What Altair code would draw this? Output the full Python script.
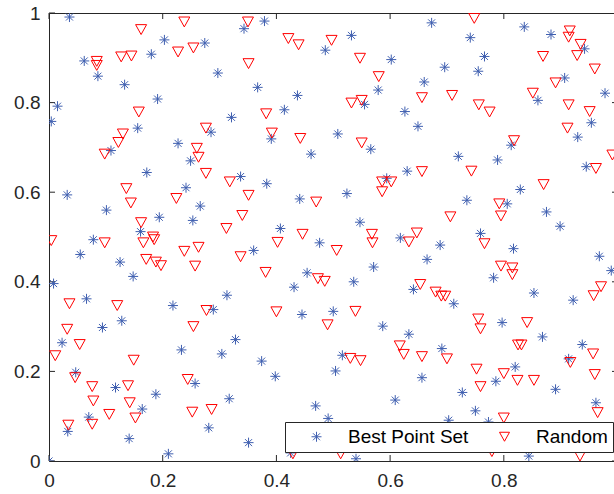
import altair as alt
import pandas as pd

# Best Point Set (blue asterisks)
best_x = [0.000, 0.036, 0.004, 0.015, 0.062, 0.086, 0.203, 0.180, 0.133, 0.191,
          0.156, 0.227, 0.109, 0.249, 0.379, 0.343, 0.274, 0.486, 0.297, 0.367,
          0.437, 0.414, 0.321, 0.285, 0.391, 0.461, 0.673, 0.741, 0.532, 0.602,
          0.696, 0.660, 0.579, 0.555, 0.626, 0.649, 0.508, 0.566, 0.720, 0.836,
          0.883, 0.942, 0.766, 0.755, 0.907, 0.978, 0.860, 0.954, 0.930, 0.813,
          0.789, 0.945, 0.172, 0.241, 0.032, 0.101, 0.194, 0.161, 0.078, 0.055,
          0.125, 0.148, 0.008, 0.066, 0.218, 0.253, 0.128, 0.337, 0.383, 0.441,
          0.266, 0.407, 0.476, 0.360, 0.454, 0.431, 0.313, 0.289, 0.445, 0.630,
          0.594, 0.524, 0.735, 0.547, 0.618, 0.688, 0.665, 0.571, 0.536, 0.641,
          0.712, 0.500, 0.829, 0.806, 0.875, 0.899, 0.759, 0.817, 0.968, 0.989,
          0.782, 0.853, 0.922, 0.094, 0.023, 0.233, 0.047, 0.117, 0.188, 0.164,
          0.070, 0.033, 0.141, 0.210, 0.328, 0.304, 0.374, 0.398, 0.257, 0.317,
          0.469, 0.491, 0.281, 0.351, 0.425, 0.587, 0.633, 0.516, 0.691, 0.504,
          0.656, 0.727, 0.609, 0.703, 0.540, 0.797, 0.868, 0.938, 0.914, 0.820,
          0.786, 0.891, 0.750, 0.962, 0.844, 0.773, 0.989]
best_y = [0.000, 0.991, 0.758, 0.792, 0.893, 0.859, 0.940, 0.908, 0.840, 0.808,
          0.743, 0.709, 0.693, 0.670, 0.982, 0.965, 0.933, 0.917, 0.866, 0.834,
          0.816, 0.784, 0.767, 0.734, 0.719, 0.685, 0.978, 0.945, 0.950, 0.896,
          0.879, 0.846, 0.828, 0.796, 0.780, 0.747, 0.730, 0.696, 0.680, 0.969,
          0.952, 0.920, 0.903, 0.870, 0.855, 0.821, 0.805, 0.755, 0.723, 0.705,
          0.672, 0.657, 0.644, 0.610, 0.594, 0.560, 0.544, 0.512, 0.494, 0.461,
          0.444, 0.412, 0.396, 0.362, 0.347, 0.537, 0.313, 0.635, 0.619, 0.585,
          0.569, 0.519, 0.487, 0.470, 0.420, 0.388, 0.370, 0.338, 0.327, 0.647,
          0.631, 0.597, 0.582, 0.533, 0.498, 0.482, 0.450, 0.433, 0.400, 0.383,
          0.351, 0.334, 0.606, 0.574, 0.556, 0.524, 0.508, 0.474, 0.457, 0.425,
          0.409, 0.375, 0.359, 0.298, 0.264, 0.248, 0.198, 0.164, 0.149, 0.116,
          0.098, 0.066, 0.050, 0.016, 0.271, 0.239, 0.223, 0.189, 0.173, 0.139,
          0.123, 0.095, 0.074, 0.041, 0.018, 0.301, 0.283, 0.236, 0.251, 0.201,
          0.186, 0.153, 0.136, 0.091, 0.005, 0.309, 0.277, 0.260, 0.228, 0.210,
          0.178, 0.160, 0.112, 0.130, 0.011, 0.087, 0.061]

# Random (red triangles)
rand_x = [0.238, 0.162, 0.227, 0.127, 0.145, 0.084, 0.084, 0.158, 0.130, 0.122,
          0.098, 0.350, 0.254, 0.421, 0.439, 0.497, 0.351, 0.382, 0.276, 0.392,
          0.442, 0.260, 0.263, 0.547, 0.580, 0.532, 0.550, 0.656, 0.709, 0.550,
          0.748, 0.916, 0.914, 0.935, 0.929, 0.869, 0.960, 0.891, 0.851, 0.756,
          0.775, 0.914, 0.951, 0.912, 0.818, 0.991, 0.136, 0.144, 0.224, 0.162,
          0.004, 0.098, 0.166, 0.183, 0.185, 0.238, 0.171, 0.188, 0.197, 0.036,
          0.120, 0.276, 0.318, 0.351, 0.340, 0.470, 0.312, 0.446, 0.402, 0.263,
          0.337, 0.257, 0.381, 0.473, 0.485, 0.277, 0.400, 0.656, 0.743, 0.586,
          0.602, 0.586, 0.706, 0.568, 0.569, 0.647, 0.633, 0.506, 0.653, 0.680,
          0.690, 0.697, 0.539, 0.962, 0.870, 0.792, 0.795, 0.766, 0.795, 0.815,
          0.815, 0.971, 0.958, 0.755, 0.032, 0.054, 0.011, 0.149, 0.046, 0.076,
          0.139, 0.078, 0.142, 0.106, 0.152, 0.076, 0.034, 0.244, 0.252, 0.254,
          0.286, 0.490, 0.429, 0.617, 0.624, 0.530, 0.548, 0.656, 0.700, 0.513,
          0.759, 0.841, 0.825, 0.831, 0.957, 0.917, 0.752, 0.800, 0.824, 0.853,
          0.960, 0.759, 0.965, 0.800, 0.934, 0.779]
rand_y = [0.980, 0.963, 0.913, 0.902, 0.904, 0.892, 0.883, 0.779, 0.730, 0.711,
          0.685, 0.980, 0.922, 0.943, 0.929, 0.939, 0.887, 0.775, 0.743, 0.732,
          0.720, 0.698, 0.678, 0.899, 0.858, 0.799, 0.805, 0.811, 0.816, 0.710,
          0.988, 0.960, 0.946, 0.930, 0.905, 0.903, 0.875, 0.844, 0.821, 0.795,
          0.779, 0.795, 0.780, 0.743, 0.715, 0.683, 0.608, 0.576, 0.586, 0.532,
          0.492, 0.487, 0.487, 0.500, 0.494, 0.468, 0.450, 0.444, 0.436, 0.351,
          0.347, 0.642, 0.623, 0.593, 0.548, 0.578, 0.519, 0.506, 0.488, 0.477,
          0.456, 0.435, 0.421, 0.407, 0.401, 0.336, 0.333, 0.646, 0.647, 0.623,
          0.623, 0.601, 0.545, 0.506, 0.487, 0.509, 0.489, 0.470, 0.394, 0.377,
          0.368, 0.368, 0.334, 0.653, 0.617, 0.574, 0.547, 0.485, 0.435, 0.431,
          0.416, 0.389, 0.369, 0.317, 0.294, 0.260, 0.235, 0.225, 0.186, 0.166,
          0.168, 0.134, 0.130, 0.104, 0.096, 0.082, 0.080, 0.182, 0.109, 0.300,
          0.115, 0.304, 0.016, 0.257, 0.238, 0.229, 0.224, 0.233, 0.228, 0.016,
          0.295, 0.309, 0.259, 0.259, 0.239, 0.220, 0.205, 0.195, 0.180, 0.180,
          0.193, 0.166, 0.108, 0.096, 0.011, 0.021]

series_names = ["Best Point Set", "Random"]
series_colors = ["#3F5FB0", "#FF0000"]
x_ticks = [0, 0.2, 0.4, 0.6, 0.8]
y_ticks = [0, 0.2, 0.4, 0.6, 0.8, 1]

ASTERISK = "M-1,0L1,0M0,-1L0,1M-0.7,-0.7L0.7,0.7M-0.7,0.7L0.7,-0.7"
TRIANGLE = "M-1,-0.9L1,-0.9L0,0.9Z"

W, H = 565, 448
XMAX = 0.9938
TICK = 6
RIGHT_EDGE = W + 4  # the right frame line sits just past the visible area
FONT = "Liberation Sans"
AX = "#262626"

best = pd.DataFrame({"x": best_x, "y": best_y, "series": series_names[0]})
rand = pd.DataFrame({"x": rand_x, "y": rand_y, "series": series_names[1]})
xt = pd.DataFrame({"x": x_ticks})
yt = pd.DataFrame({"y": y_ticks})

xscale = alt.Scale(domain=[0, XMAX], nice=False, zero=False)
yscale = alt.Scale(domain=[0, 1], nice=False)

legend = alt.Legend(
    title=None, orient="none", legendX=236, legendY=409, direction="horizontal",
    padding=5, symbolOffset=17, labelOffset=22, columnPadding=9,
    symbolSize=100, symbolStrokeWidth=1, labelFontSize=19, labelFont=FONT,
    labelColor="#000000", strokeColor=AX, fillColor="white",
)
color = alt.Color("series:N", scale=alt.Scale(domain=series_names, range=series_colors), legend=legend)
shape = alt.Shape("series:N", scale=alt.Scale(domain=series_names, range=[ASTERISK, TRIANGLE]), legend=legend)

x_bottom = alt.X(
    "x:Q", scale=xscale, title=None,
    axis=alt.Axis(orient="bottom", values=x_ticks, format="~g", labelFlush=False,
                  ticks=False, grid=False, domain=True, domainColor=AX, domainWidth=1,
                  labelFont=FONT, labelFontSize=19, labelColor=AX, labelPadding=10),
)
x_top = alt.X(
    "x:Q", scale=xscale, title=None,
    axis=alt.Axis(orient="top", values=x_ticks, labels=False, ticks=False, grid=False,
                  domain=True, domainColor=AX, domainWidth=1),
)
x_plain = alt.X("x:Q", scale=xscale, title=None, axis=None)
y_left = alt.Y(
    "y:Q", scale=yscale, title=None,
    axis=alt.Axis(orient="left", values=y_ticks, format="~g",
                  ticks=False, grid=False, domain=True, domainColor=AX, domainWidth=1,
                  labelFont=FONT, labelFontSize=19, labelColor=AX, labelPadding=9),
)

blue = alt.Chart(best).mark_point(filled=False, size=100, strokeWidth=1, opacity=1, clip=True).encode(
    x=x_bottom, y=y_left, color=color, shape=shape
)
red = alt.Chart(rand).mark_point(filled=False, size=121, strokeWidth=1, opacity=1, clip=True).encode(
    x=x_top, y=y_left, color=color, shape=shape
)

# inward tick marks (MATLAB style box axes)
tick_bottom = alt.Chart(xt).mark_rule(color=AX, strokeWidth=1).encode(
    x=x_plain, y=alt.value(H), y2=alt.value(H - TICK)
)
tick_top = alt.Chart(xt).mark_rule(color=AX, strokeWidth=1).encode(
    x=x_plain, y=alt.value(0), y2=alt.value(TICK)
)
tick_left = alt.Chart(yt).mark_rule(color=AX, strokeWidth=1).encode(
    y=y_left, x=alt.value(0), x2=alt.value(TICK)
)
tick_right = alt.Chart(yt).mark_rule(color=AX, strokeWidth=1, clip=True).encode(
    y=y_left, x=alt.value(RIGHT_EDGE - TICK), x2=alt.value(RIGHT_EDGE)
)

chart = alt.layer(tick_bottom, tick_top, tick_left, tick_right, blue, red).resolve_axis(
    x="independent"
).properties(
    width=W, height=H,
    padding={"left": 49, "top": 13, "right": 0, "bottom": 33},
    autosize=alt.AutoSizeParams(type="none"),
    background="white",
).configure_view(stroke="transparent")

chart.save("out.html", embed_options={"renderer": "svg", "actions": False})
